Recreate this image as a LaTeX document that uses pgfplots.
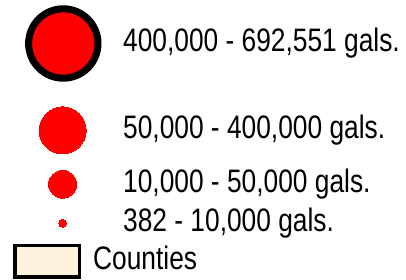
\documentclass[border=0pt]{standalone}
\usepackage{fontspec}
\setmainfont{Liberation Sans}[FakeStretch=0.81]
\usepackage{pgfplots}
\pgfplotsset{compat=1.18}
\definecolor{cream}{RGB}{255,242,220}
\begin{document}
\begin{tikzpicture}
\begin{axis}[
  width=406pt, height=280pt, scale only axis,
  xmin=0, xmax=406, ymin=0, ymax=280, y dir=reverse,
  hide axis, clip=false,
]
\addplot[draw=none, forget plot] coordinates {(0,0) (406,280)};
% counties box
\addplot[draw=black, line width=3.3pt, fill=cream, line join=miter] coordinates {(15,245.7) (79.3,245.7) (79.3,277) (15,277)} -- cycle;
% circles
\addplot[only marks, mark=*, mark size=34.7pt, mark options={draw=black, fill=red, line width=7pt}] coordinates {(63.3,43.5)};
\addplot[red, only marks, mark=*, mark size=23.5pt, mark options={draw=red, fill=red, line width=0pt}] coordinates {(62.7,130.3)};
\addplot[red, only marks, mark=*, mark size=14pt, mark options={draw=red, fill=red, line width=0pt}] coordinates {(62.7,184.2)};
\addplot[red, only marks, mark=*, mark size=4pt, mark options={draw=red, fill=red, line width=0pt}] coordinates {(62.7,223.2)};
% labels
\node[anchor=base west, inner sep=0pt, font=\fontsize{32.5pt}{36pt}\selectfont] at (axis cs:123,51.7) {400,000 - 692,551 gals.};
\node[anchor=base west, inner sep=0pt, font=\fontsize{32.5pt}{36pt}\selectfont] at (axis cs:123,139) {50,000 - 400,000 gals.};
\node[anchor=base west, inner sep=0pt, font=\fontsize{32.5pt}{36pt}\selectfont] at (axis cs:123,192.7) {10,000 - 50,000 gals.};
\node[anchor=base west, inner sep=0pt, font=\fontsize{32.5pt}{36pt}\selectfont] at (axis cs:123,231.7) {382 - 10,000 gals.};
\node[anchor=base west, inner sep=0pt, font=\fontsize{32.5pt}{36pt}\selectfont] at (axis cs:93,269) {Counties};
\end{axis}
\end{tikzpicture}
\end{document}
